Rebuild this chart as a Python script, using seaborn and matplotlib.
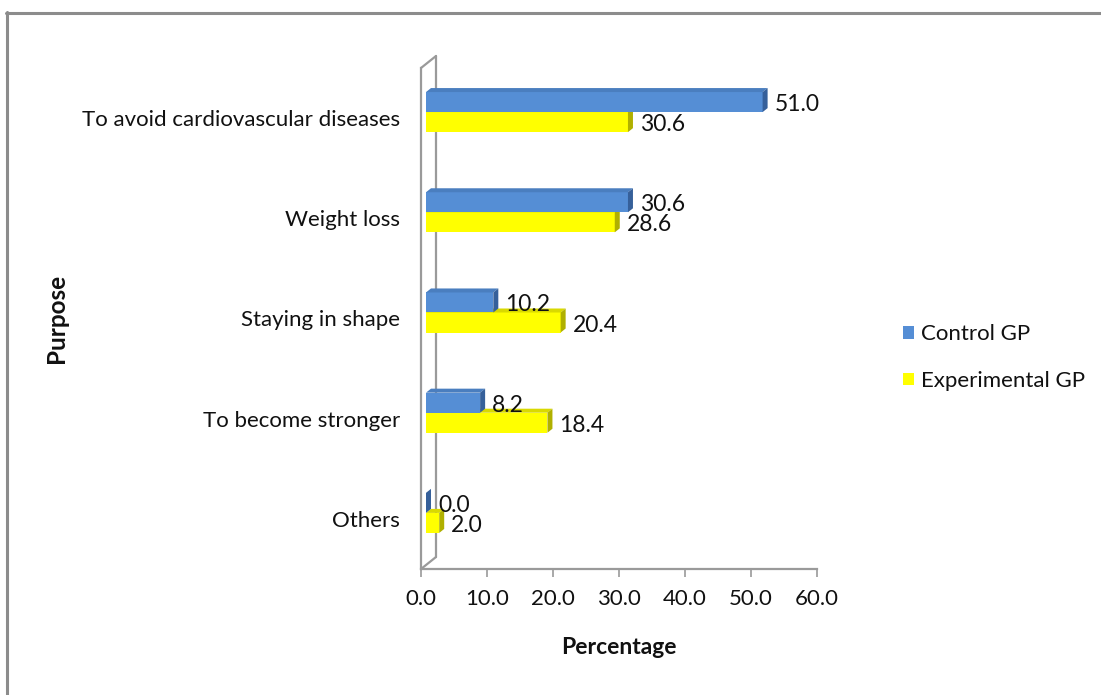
import matplotlib
matplotlib.use("Agg")
import matplotlib.pyplot as plt
import matplotlib.transforms as mtransforms
from matplotlib.patches import Polygon, Patch
from matplotlib.lines import Line2D
import pandas as pd
import seaborn as sns

# ---- data -------------------------------------------------------------
purposes = [
    "To avoid cardiovascular diseases",
    "Weight loss",
    "Staying in shape",
    "To become stronger",
    "Others",
]
control_gp = [51.0, 30.6, 10.2, 8.2, 0.0]
experimental_gp = [30.6, 28.6, 20.4, 18.4, 2.0]
groups = ["Control GP", "Experimental GP"]
x_ticks = [0, 10, 20, 30, 40, 50, 60]

# ---- styling ----------------------------------------------------------
front_col = {"Control GP": "#558ED5", "Experimental GP": "#FFFF00"}
top_col = {"Control GP": "#4A7EBF", "Experimental GP": "#D9D900"}
side_col = {"Control GP": "#36609A", "Experimental GP": "#B0B000"}
axis_grey = "#9A9A9A"
FS = 16
FS_VAL = 16.5
FS_TITLE = 16.5

sns.set_theme(style="white")
plt.rcParams["font.family"] = ["Lato", "DejaVu Sans"]

df = pd.DataFrame({
    "Purpose": purposes * 2,
    "Percentage": control_gp + experimental_gp,
    "Group": [groups[0]] * len(purposes) + [groups[1]] * len(purposes),
})

W, H, DPI = 1101, 695, 100
fig = plt.figure(figsize=(W / DPI, H / DPI), dpi=DPI)
ax = fig.add_axes([421 / W, 1 - 569 / H, 396 / W, 501 / H])

sns.barplot(
    data=df, y="Purpose", x="Percentage", hue="Group",
    order=purposes, hue_order=groups, orient="h",
    width=0.4, palette=front_col, saturation=1,
    errorbar=None, linewidth=0, legend=False, ax=ax,
)

ax.set_xlim(0, 60)
ax.set_ylim(len(purposes) - 0.5, -0.5)

# bars sit a little inside the 3-D box: shift them right/up in pixels
shift = mtransforms.ScaledTranslation(5 / DPI, 6 / DPI, fig.dpi_scale_trans)
bar_tr = ax.transData + shift

# bar depth (pixels) converted to data units
p0 = ax.transData.transform((0, 0))
p1 = ax.transData.transform((1, 1))
ux, uy = p1[0] - p0[0], p1[1] - p0[1]
DX, DY = 5, 4
ddx, ddy = DX / ux, DY / uy

# pick the bars of each group from the containers seaborn adds
containers = list(ax.containers)
if len(containers) != len(groups):
    containers = []
    for g in groups:
        fc = matplotlib.colors.to_rgba(front_col[g])
        containers.append([p for p in ax.patches
                           if tuple(round(c, 3) for c in p.get_facecolor()) ==
                           tuple(round(c, 3) for c in fc)])

zorders = {"Control GP": 4, "Experimental GP": 3}
for g, cont, vals in zip(groups, containers, [control_gp, experimental_gp]):
    patches = cont.patches if hasattr(cont, "patches") else cont
    z = zorders[g]
    for p, v in zip(patches, vals):
        p.set_transform(bar_tr)
        p.set_zorder(z)
        x0 = p.get_x()
        x1 = x0 + p.get_width()
        yt = p.get_y()
        yb = yt + p.get_height()
        top = Polygon([(x0, yt), (x1, yt), (x1 + ddx, yt + ddy), (x0 + ddx, yt + ddy)],
                      closed=True, facecolor=top_col[g], edgecolor="none",
                      transform=bar_tr, zorder=z + 0.1, clip_on=False)
        side = Polygon([(x1, yt), (x1, yb), (x1 + ddx, yb + ddy), (x1 + ddx, yt + ddy)],
                       closed=True, facecolor=side_col[g], edgecolor="none",
                       transform=bar_tr, zorder=z + 0.2, clip_on=False)
        ax.add_patch(top)
        ax.add_patch(side)
        ax.annotate(f"{v:.1f}", xy=(x1, (yt + yb) / 2), xycoords=bar_tr,
                    xytext=(12, -2.5), textcoords="offset pixels",
                    ha="left", va="center", fontsize=FS_VAL, color="#111111",
                    zorder=10, annotation_clip=False)

# ---- 3-D box outline ------------------------------------------------
bbox = ax.get_window_extent()
wx, wy = 15 / bbox.width, 12 / bbox.height
box_kw = dict(transform=ax.transAxes, color=axis_grey, lw=1.6, clip_on=False, zorder=1)
ax.add_line(Line2D([wx, wx], [wy, 1 + wy], **box_kw))
ax.add_line(Line2D([0, wx], [1, 1 + wy], **box_kw))
ax.add_line(Line2D([0, wx], [0, wy], **box_kw))

for s in ["top", "right"]:
    ax.spines[s].set_visible(False)
for s in ["left", "bottom"]:
    ax.spines[s].set_color(axis_grey)
    ax.spines[s].set_linewidth(1.6)

ax.set_xticks(x_ticks)
ax.set_xticklabels([f"{t:.1f}" for t in x_ticks])
ax.tick_params(axis="x", direction="out", length=5.5, width=1.2, color=axis_grey,
               pad=9, labelsize=FS, labelcolor="#111111", bottom=True)
ax.tick_params(axis="y", length=0, pad=15, labelsize=FS, labelcolor="#111111", left=False)

ax.set_xlabel("Percentage", fontsize=FS_TITLE, fontweight="bold", color="#111111")
ax.set_ylabel("Purpose", fontsize=17.5, fontweight="bold", color="#111111")
ax.xaxis.label.set_va("center")
ax.yaxis.label.set_va("center")
ax.xaxis.set_label_coords(0.5, (569 - 647) / 501)
ax.yaxis.set_label_coords((56 - 421) / 396, (569 - 318) / 501)

# ---- legend ---------------------------------------------------------
handles = [Patch(facecolor=front_col[g], edgecolor="none", label=g) for g in groups]
fig.legend(handles=handles, loc="center left", bbox_to_anchor=(903 / W, 1 - 357.5 / H),
           frameon=False, fontsize=FS, handlelength=0.5, handleheight=0.5,
           handletextpad=0.3, labelspacing=1.2, borderpad=0, borderaxespad=0,
           labelcolor="#111111")

# ---- chart area border (top and left edges) -------------------------
fig.add_artist(Line2D([6 / W, 1], [1 - 13 / H, 1 - 13 / H], transform=fig.transFigure,
                      color="#8C8C8C", lw=2.2))
fig.add_artist(Line2D([7 / W, 7 / W], [0, 1 - 12 / H], transform=fig.transFigure,
                      color="#8C8C8C", lw=2.2))

fig.savefig("out.png", dpi=DPI, facecolor="white")
